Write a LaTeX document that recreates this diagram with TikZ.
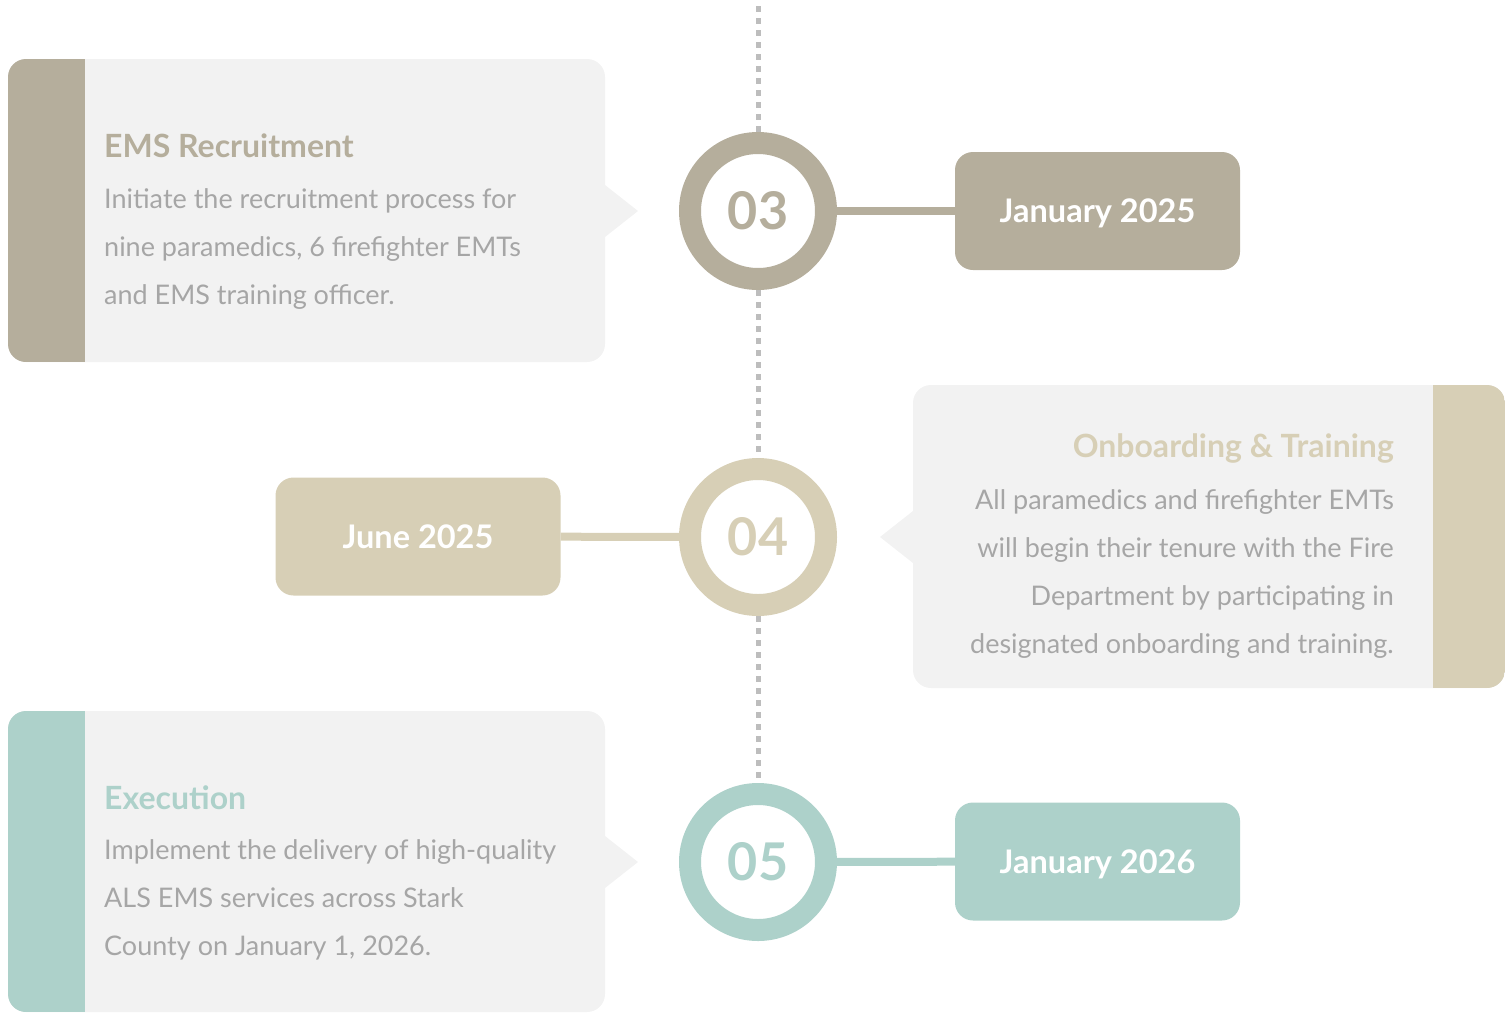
\documentclass[tikz,border=0pt]{standalone}
\usepackage{fontspec}
\setmainfont{Lato}
\definecolor{stone}{HTML}{B5AE9C}
\definecolor{sand}{HTML}{D7CFB6}
\definecolor{mint}{HTML}{ADD1CA}
\definecolor{panel}{HTML}{F2F2F2}
\definecolor{bodygray}{HTML}{A6A6A6}
\definecolor{dots}{HTML}{BDBDBD}
\begin{document}
\begin{tikzpicture}[x=1pt,y=-1pt,
    ring/.style={circle, draw=#1, line width=22pt, fill=white, minimum size=136pt,
      inner sep=0pt, text=#1, font=\fontsize{52}{52}\selectfont\bfseries},
    datebox/.style={rectangle, rounded corners=18pt, fill=#1, minimum width=285pt,
      minimum height=118pt, text height=23pt, text depth=0pt, text=white,
      font=\fontsize{32.5}{32.5}\selectfont\bfseries},
    link/.style={draw=#1, line width=8pt},
    title/.style={text=#1, inner sep=0pt, font=\fontsize{32}{32}\selectfont\bfseries},
    body/.style={text=bodygray, inner sep=0pt, align=#1, font=\fontsize{27}{48}\selectfont},
    dotline/.style={draw=dots, line width=5pt, dash pattern=on 6pt off 6pt}
  ]
  \useasboundingbox (0,0) rectangle (1505,1013);
  % panels
  \fill[panel, rounded corners=18pt] (8,59) rectangle (605,362);
  \fill[panel] (605,185) -- (638,211) -- (605,237) -- cycle;
  \begin{scope}
    \clip[rounded corners=18pt] (8,59) rectangle (605,362);
    \fill[stone] (8,59) rectangle (85,362);
  \end{scope}
  \fill[panel, rounded corners=18pt] (913,385) rectangle (1505,688);
  \fill[panel] (913,511) -- (880,537) -- (913,563) -- cycle;
  \begin{scope}
    \clip[rounded corners=18pt] (913,385) rectangle (1505,688);
    \fill[sand] (1433,385) rectangle (1505,688);
  \end{scope}
  \fill[panel, rounded corners=18pt] (8,711) rectangle (605,1012);
  \fill[panel] (605,836) -- (638,862) -- (605,888) -- cycle;
  \begin{scope}
    \clip[rounded corners=18pt] (8,711) rectangle (605,1012);
    \fill[mint] (8,711) rectangle (85,1012);
  \end{scope}
  % panel texts
  \node[title=stone, anchor=west] (t3) at (104,146) {EMS Recruitment};
  \node[body=left, anchor=west] (b3) at (104,249)
    {Initiate the recruitment process for\\nine paramedics, 6 firefighter EMTs\\and EMS training officer.};
  \node[title=sand, anchor=east] (t4) at (1394,448) {Onboarding \& Training};
  \node[body=right, anchor=east] (b4) at (1394,574)
    {All paramedics and firefighter EMTs\\will begin their tenure with the Fire\\Department by participating in\\designated onboarding and training.};
  \node[title=mint, anchor=west] (t5) at (104,798) {Execution};
  \node[body=left, anchor=west] (b5) at (104,900)
    {Implement the delivery of high-quality\\ALS EMS services across Stark\\County on January 1, 2026.};
  % milestones
  \coordinate (top) at (758,6);
  \node[ring=stone] (c3) at (758,211) {03};
  \node[ring=sand] (c4) at (758,537) {04};
  \node[ring=mint] (c5) at (758,862) {05};
  \node[datebox=stone] (d3) at (1097.5,211) {January 2025};
  \node[datebox=sand] (d4) at (418,536.5) {June 2025};
  \node[datebox=mint] (d5) at (1097.5,861.5) {January 2026};
  % timeline
  \draw[dotline] (top) -- (c3.north);
  \draw[dotline] (c3.south) -- (c4.north);
  \draw[dotline] (c4.south) -- (c5.north);
  \draw[link=stone] (c3) -- (d3);
  \draw[link=sand] (c4) -- (d4);
  \draw[link=mint] (c5) -- (d5);
\end{tikzpicture}
\end{document}
